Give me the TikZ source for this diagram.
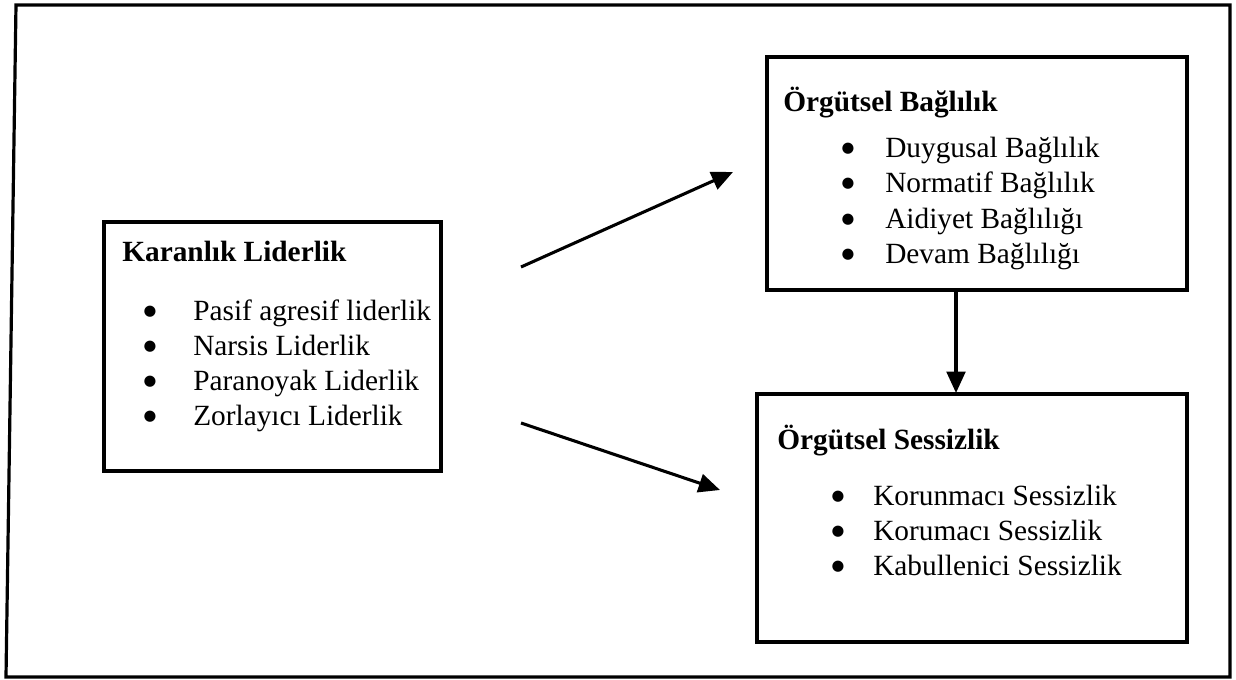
\documentclass[tikz,border=0pt]{standalone}
\usepackage{fontspec}
\setmainfont{Liberation Serif}
\newfontfamily\dejavu{DejaVu Sans}
\usetikzlibrary{fit,arrows.meta}
\begin{document}
\begin{tikzpicture}[x=0.75pt,y=-0.75pt,
  frame/.style={line width=2.4pt},
  box/.style={draw,line width=2.3pt,inner sep=0pt},
  arr/.style={line width=2.3pt,-{Triangle[length=16pt,width=14pt]}},
  ttl/.style={anchor=base west,inner sep=0pt,font=\fontsize{22}{26}\selectfont\bfseries},
  itm/.style={anchor=base west,inner sep=0pt,font=\fontsize{22}{26}\selectfont},
  bul/.style={anchor=center,inner sep=0pt,font=\dejavu\fontsize{11}{12}\selectfont}]
\useasboundingbox (0,0) rectangle (1236,679);
% outer frame
\draw[frame] (16,5) -- (1230,5) -- (1230,677) -- (6,677) -- cycle;
% boxes
\node[box,fit={(104,222) (441,471)}] (kl) {};
\node[box,fit={(767,57) (1187,290)}] (ob) {};
\node[box,fit={(757,394) (1187,642)}] (os) {};
% left box text
\node[ttl] (klt) at (122,261) {Karanlık Liderlik};
\node[bul] (klb1) at (150,312) {●};
\node[itm] (kli1) at (193,320) {Pasif agresif liderlik};
\node[bul] (klb2) at (150,347) {●};
\node[itm] (kli2) at (193,355) {Narsis Liderlik};
\node[bul] (klb3) at (150,382) {●};
\node[itm] (kli3) at (193,390) {Paranoyak Liderlik};
\node[bul] (klb4) at (150,417) {●};
\node[itm] (kli4) at (193,425) {Zorlayıcı Liderlik};
% upper right text
\node[ttl] (obt) at (783,111) {Örgütsel Bağlılık};
\node[bul] (obb1) at (848,149) {●};
\node[itm] (obi1) at (885,157) {Duygusal Bağlılık};
\node[bul] (obb2) at (848,184) {●};
\node[itm] (obi2) at (885,192) {Normatif Bağlılık};
\node[bul] (obb3) at (848,220) {●};
\node[itm] (obi3) at (885,228) {Aidiyet Bağlılığı};
\node[bul] (obb4) at (848,255) {●};
\node[itm] (obi4) at (885,263) {Devam Bağlılığı};
% lower right text
\node[ttl] (ost) at (777,449) {Örgütsel Sessizlik};
\node[bul] (osb1) at (838,497) {●};
\node[itm] (osi1) at (873,505) {Korunmacı Sessizlik};
\node[bul] (osb2) at (838,532) {●};
\node[itm] (osi2) at (873,540) {Korumacı Sessizlik};
\node[bul] (osb3) at (838,567) {●};
\node[itm] (osi3) at (873,575) {Kabullenici Sessizlik};
% arrows
\coordinate (a1s) at (521,267);
\coordinate (a1e) at (733,172);
\coordinate (a2s) at (521,423);
\coordinate (a2e) at (720,490);
\coordinate (a3s) at (956,290);
\coordinate (a3e) at (956,393);
\draw[arr] (a1s) -- (a1e);
\draw[arr] (a2s) -- (a2e);
\draw[arr] (a3s) -- (a3e);
\end{tikzpicture}
\end{document}
